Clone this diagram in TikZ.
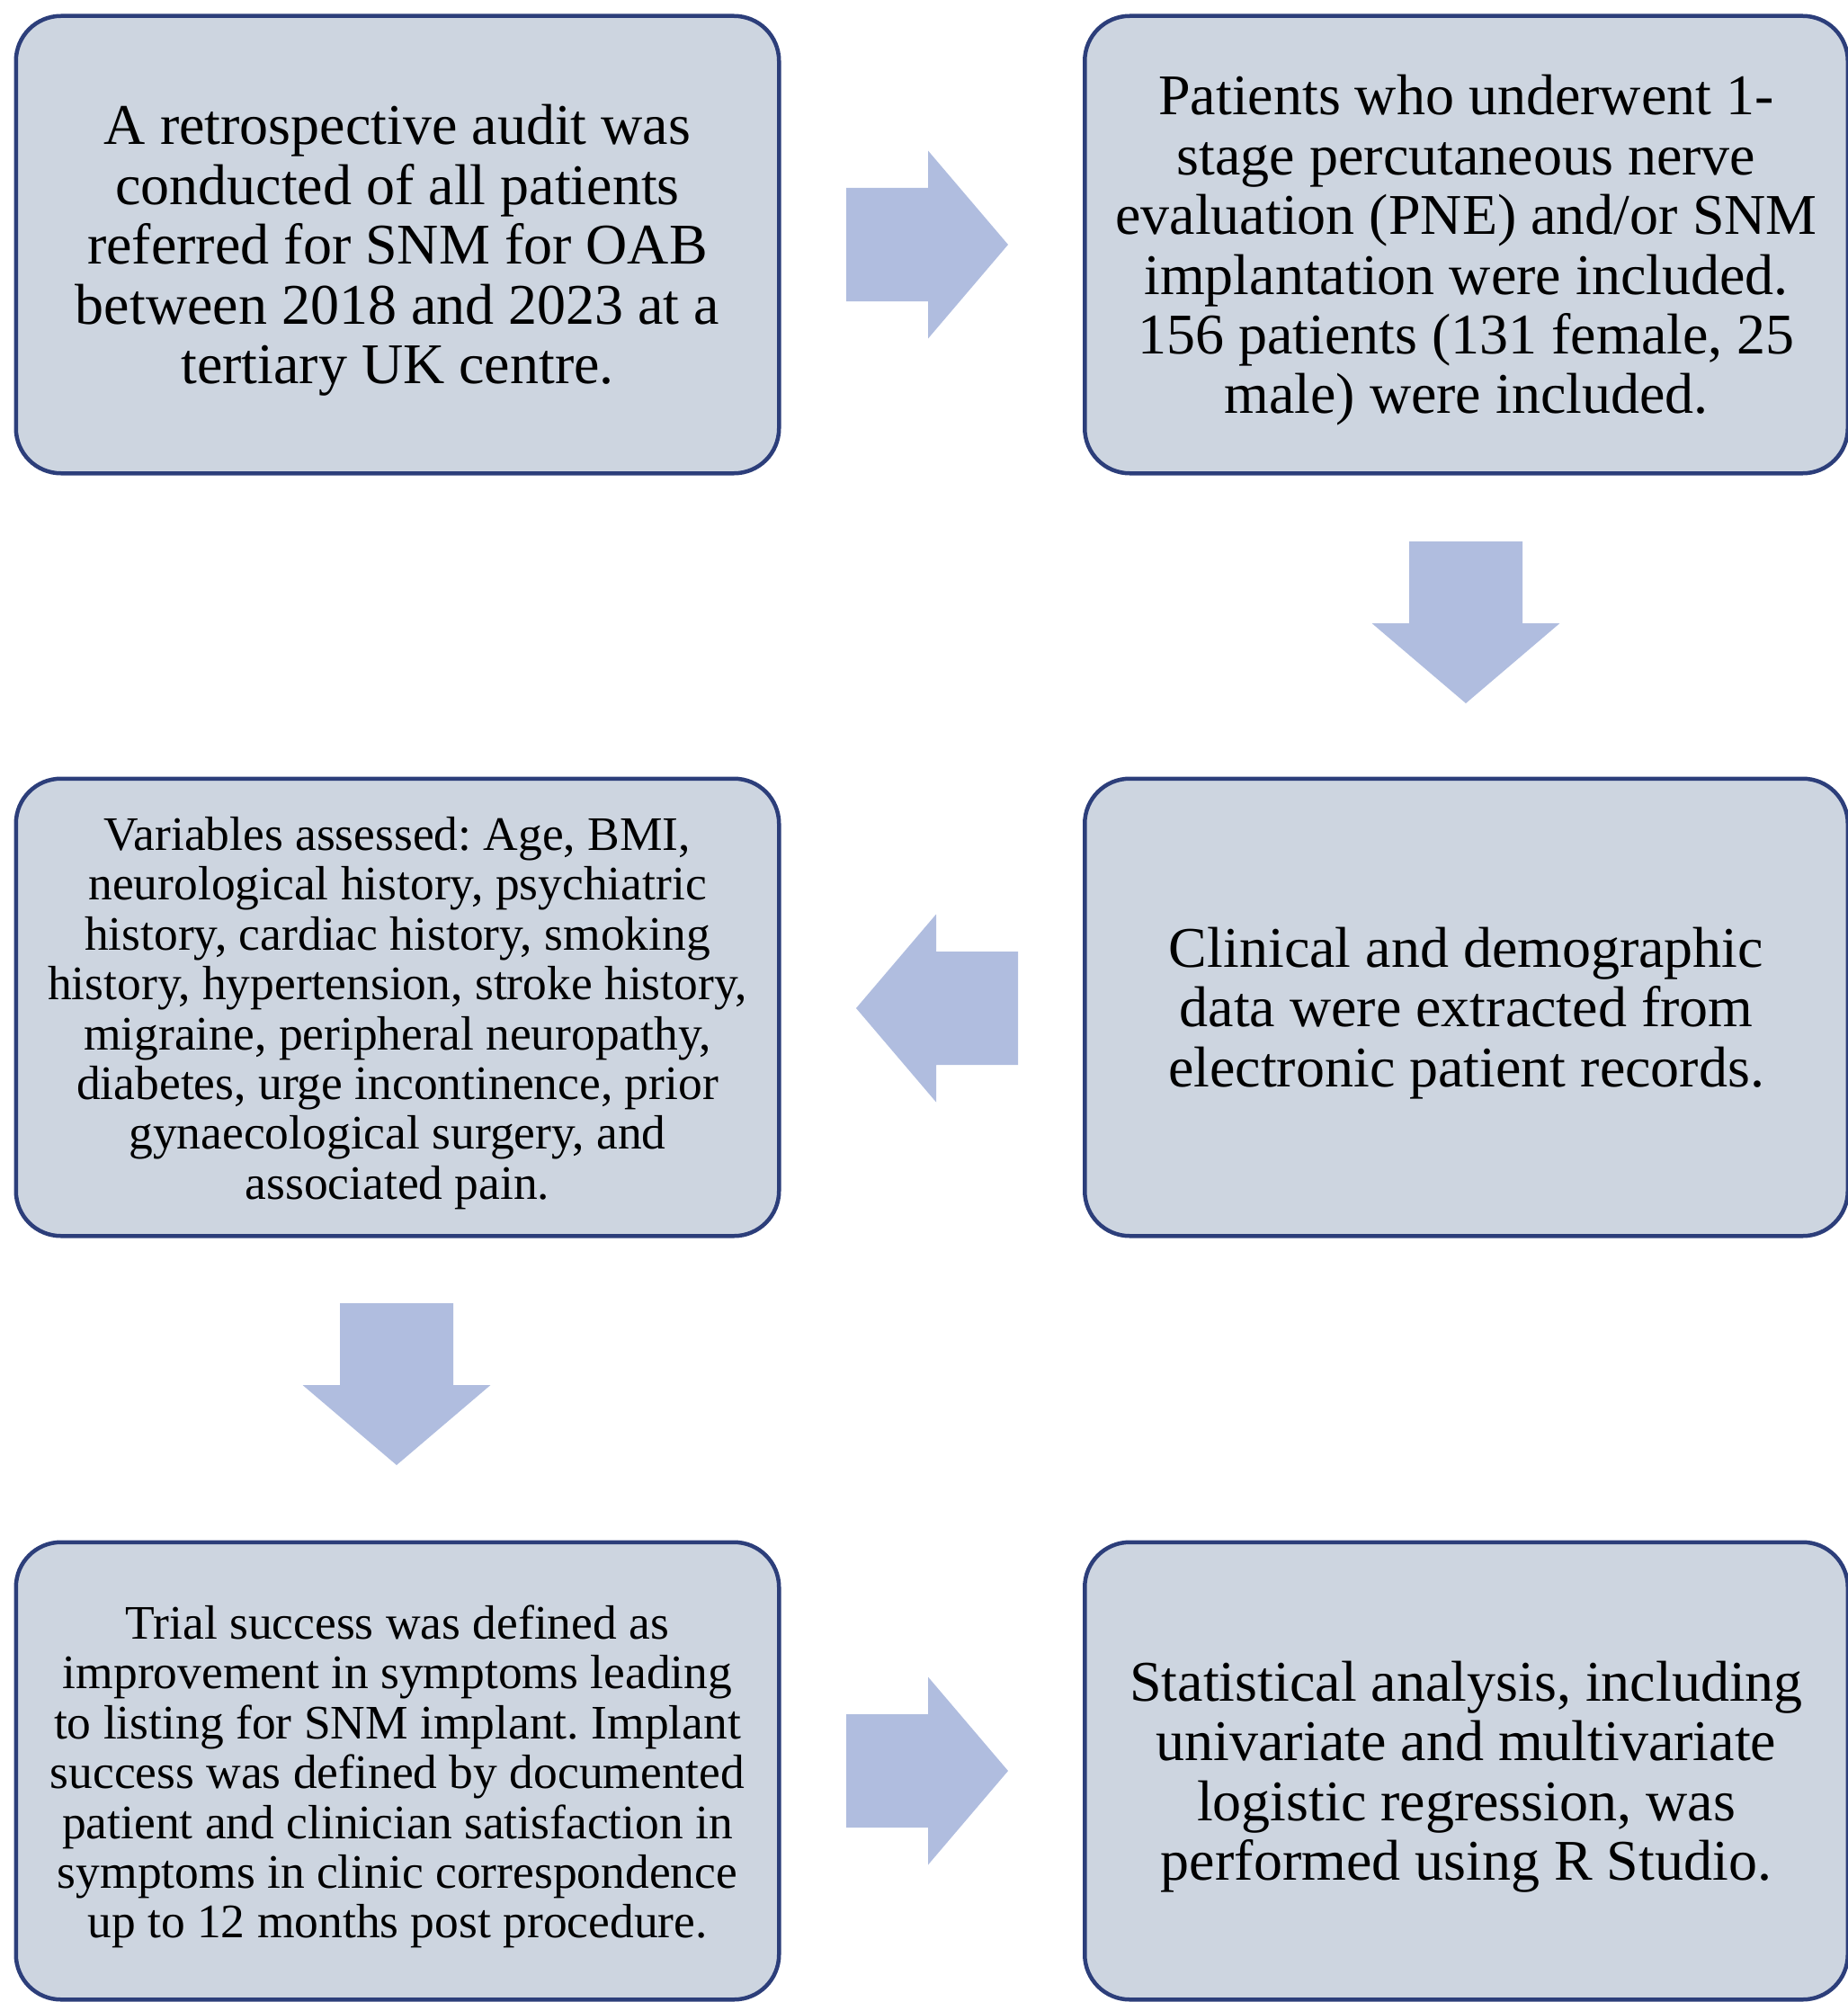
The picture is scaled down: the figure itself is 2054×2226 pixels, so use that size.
\documentclass[tikz,border=0pt]{standalone}
\usepackage{fontspec}
\setmainfont{Liberation Serif}
\frenchspacing
\definecolor{boxfill}{RGB}{205,213,224}
\definecolor{boxline}{RGB}{44,62,122}
\definecolor{arrowfill}{RGB}{176,189,223}
\tikzset{
  box/.style={draw=boxline, line width=4.5pt, fill=boxfill, rounded corners=50pt,
    minimum width=848.5pt, minimum height=508.5pt, inner sep=0pt},
  boxtext/.style={align=center, inner sep=0pt, text=black},
  bigtext/.style={boxtext, font=\fontsize{64}{66.4}\selectfont},
  smalltext/.style={boxtext, font=\fontsize{53.5}{55.4}\selectfont},
  barrow/.pic={\fill[arrowfill] (-90,-63) -- (1,-63) -- (1,-104.5) -- (90,0) -- (1,104.5) -- (1,63) -- (-90,63) -- cycle;}
}
\begin{document}
\begin{tikzpicture}[x=1pt,y=-1pt]
\useasboundingbox (0,0) rectangle (2054,2226);
\node[box] (b1) at (442,272) {};
\node[box] (b2) at (1630.5,272) {};
\node[box] (b3) at (442,1120) {};
\node[box] (b4) at (1630.5,1120) {};
\node[box] (b5) at (442,1969) {};
\node[box] (b6) at (1630.5,1969) {};
\node[bigtext] (t1) at ([yshift=-6.5pt]b1.center) {A retrospective audit was\\conducted of all patients\\referred for SNM for OAB\\between 2018 and 2023 at a\\tertiary UK centre.};
\node[bigtext] (t2) at ([yshift=-6.5pt]b2.center) {Patients who underwent 1-\\stage percutaneous nerve\\evaluation (PNE) and/or SNM\\implantation were included.\\156 patients (131 female, 25\\male) were included.};
\node[bigtext] (t4) at ([yshift=-6.5pt]b4.center) {Clinical and demographic\\data were extracted from\\electronic patient records.};
\node[smalltext] (t3) at ([yshift=-6.5pt]b3.center) {Variables assessed: Age, BMI,\\neurological history, psychiatric\\history, cardiac history, smoking\\history, hypertension, stroke history,\\migraine, peripheral neuropathy,\\diabetes, urge incontinence, prior\\gynaecological surgery, and\\associated pain.};
\node[smalltext] (t5) at ([yshift=-6.5pt]b5.center) {Trial success was defined as\\improvement in symptoms leading\\to listing for SNM implant. Implant\\success was defined by documented\\patient and clinician satisfaction in\\symptoms in clinic correspondence\\up to 12 months post procedure.};
\node[bigtext] (t6) at ([yshift=-6.5pt]b6.center) {Statistical analysis, including\\univariate and multivariate\\logistic regression, was\\performed using R Studio.};
\pic at (1031,272) {barrow};
\pic[rotate=-90] at (1630,692) {barrow};
\pic[rotate=180] at (1042,1121) {barrow};
\pic[rotate=-90] at (441,1539) {barrow};
\pic at (1031,1969) {barrow};
\end{tikzpicture}
\end{document}
